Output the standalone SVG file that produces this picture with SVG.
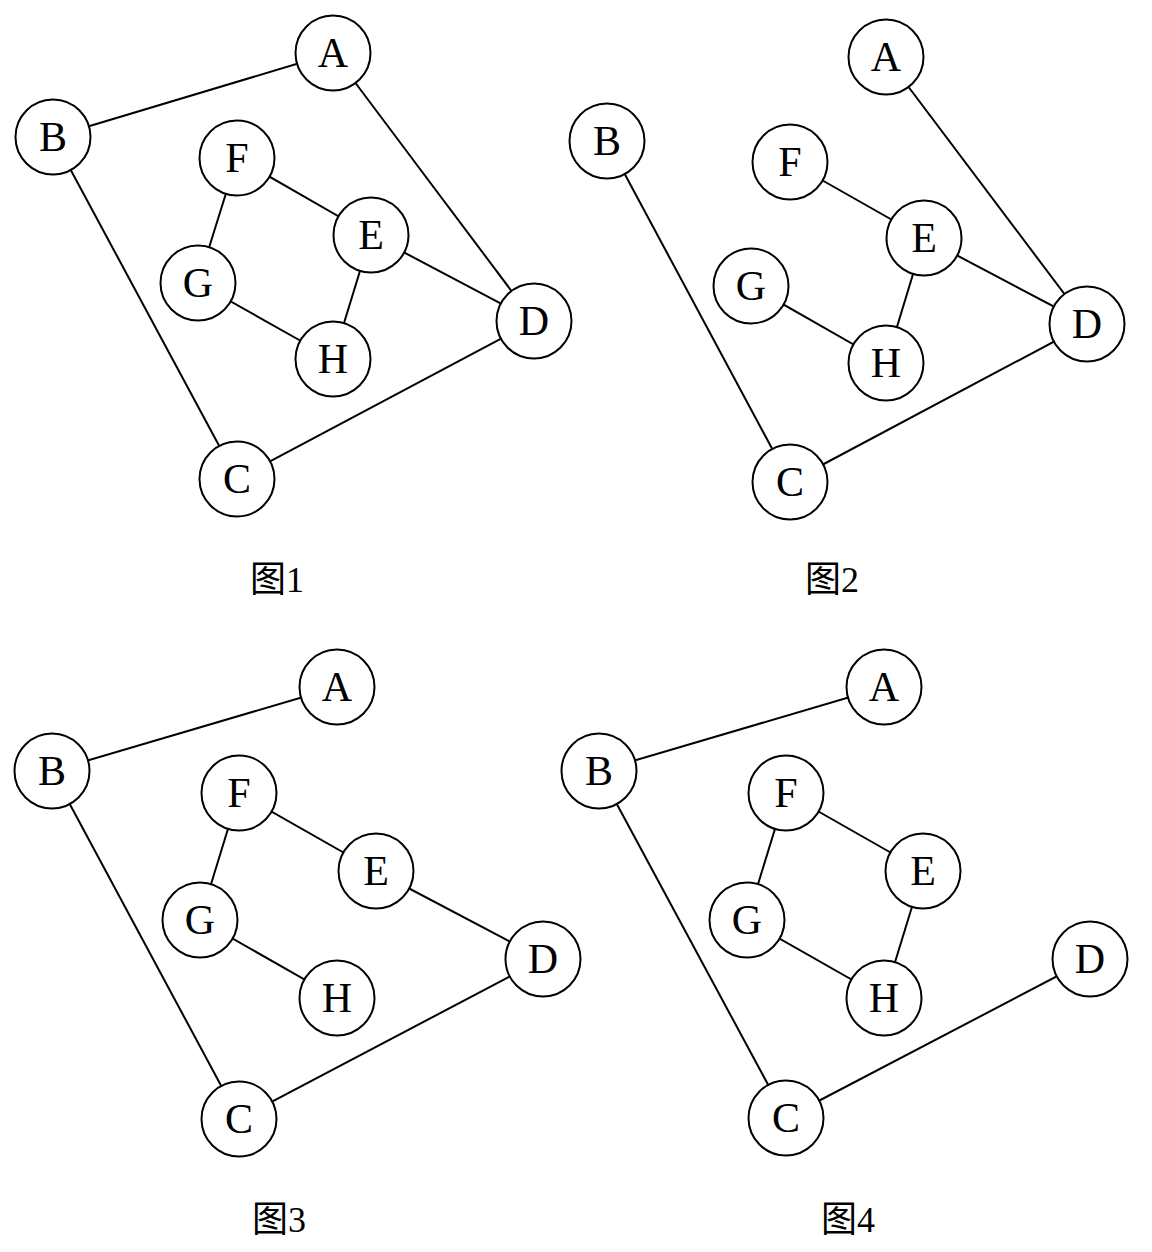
<svg xmlns="http://www.w3.org/2000/svg" width="1152" height="1252" viewBox="0 0 1152 1252">
<style>
.edge{stroke:#000;stroke-width:2;fill:none}
.node circle{fill:#fff;stroke:#000;stroke-width:2}
.node text{font-family:"Liberation Serif","Times New Roman",serif;font-size:42px;text-anchor:middle;fill:#000}
.cap{font-family:"Liberation Serif","Noto Sans CJK SC",serif;font-size:36px;text-anchor:middle;fill:#000}
</style>
<rect width="1152" height="1252" fill="#fff"/>

<!-- Figure 1 -->
<g id="fig1">
<g id="fig1-connectors">
<line class="edge" x1="53" y1="137" x2="333" y2="53"/>
<line class="edge" x1="53" y1="137" x2="237" y2="479"/>
<line class="edge" x1="333" y1="53" x2="534" y2="321"/>
<line class="edge" x1="237" y1="158" x2="371" y2="235"/>
<line class="edge" x1="237" y1="158" x2="198" y2="283"/>
<line class="edge" x1="371" y1="235" x2="333" y2="359"/>
<line class="edge" x1="371" y1="235" x2="534" y2="321"/>
<line class="edge" x1="198" y1="283" x2="333" y2="359"/>
<line class="edge" x1="237" y1="479" x2="534" y2="321"/>
</g>
<g id="fig1-A" class="node"><circle cx="333" cy="53" r="37.5"/><text x="333" y="67">A</text></g>
<g id="fig1-B" class="node"><circle cx="53" cy="137" r="37.5"/><text x="53" y="151">B</text></g>
<g id="fig1-F" class="node"><circle cx="237" cy="158" r="37.5"/><text x="237" y="172">F</text></g>
<g id="fig1-E" class="node"><circle cx="371" cy="235" r="37.5"/><text x="371" y="249">E</text></g>
<g id="fig1-G" class="node"><circle cx="198" cy="283" r="37.5"/><text x="198" y="297">G</text></g>
<g id="fig1-D" class="node"><circle cx="534" cy="321" r="37.5"/><text x="534" y="335">D</text></g>
<g id="fig1-H" class="node"><circle cx="333" cy="359" r="37.5"/><text x="333" y="373">H</text></g>
<g id="fig1-C" class="node"><circle cx="237" cy="479" r="37.5"/><text x="237" y="493">C</text></g>
<text id="fig1-label" class="cap" x="277" y="592">图1</text>
</g>

<!-- Figure 2 -->
<g id="fig2">
<g id="fig2-connectors">
<line class="edge" x1="886" y1="57" x2="1087" y2="324"/>
<line class="edge" x1="607" y1="141" x2="790" y2="482"/>
<line class="edge" x1="790" y1="162" x2="924" y2="238"/>
<line class="edge" x1="924" y1="238" x2="886" y2="363"/>
<line class="edge" x1="924" y1="238" x2="1087" y2="324"/>
<line class="edge" x1="751" y1="286" x2="886" y2="363"/>
<line class="edge" x1="790" y1="482" x2="1087" y2="324"/>
</g>
<g id="fig2-A" class="node"><circle cx="886" cy="57" r="37.5"/><text x="886" y="71">A</text></g>
<g id="fig2-B" class="node"><circle cx="607" cy="141" r="37.5"/><text x="607" y="155">B</text></g>
<g id="fig2-F" class="node"><circle cx="790" cy="162" r="37.5"/><text x="790" y="176">F</text></g>
<g id="fig2-E" class="node"><circle cx="924" cy="238" r="37.5"/><text x="924" y="252">E</text></g>
<g id="fig2-G" class="node"><circle cx="751" cy="286" r="37.5"/><text x="751" y="300">G</text></g>
<g id="fig2-D" class="node"><circle cx="1087" cy="324" r="37.5"/><text x="1087" y="338">D</text></g>
<g id="fig2-H" class="node"><circle cx="886" cy="363" r="37.5"/><text x="886" y="377">H</text></g>
<g id="fig2-C" class="node"><circle cx="790" cy="482" r="37.5"/><text x="790" y="496">C</text></g>
<text id="fig2-label" class="cap" x="832" y="592">图2</text>
</g>

<!-- Figure 3 -->
<g id="fig3">
<g id="fig3-connectors">
<line class="edge" x1="52" y1="771" x2="337" y2="687"/>
<line class="edge" x1="52" y1="771" x2="239" y2="1119"/>
<line class="edge" x1="239" y1="793" x2="376" y2="871"/>
<line class="edge" x1="239" y1="793" x2="200" y2="920"/>
<line class="edge" x1="376" y1="871" x2="543" y2="959"/>
<line class="edge" x1="200" y1="920" x2="337" y2="998"/>
<line class="edge" x1="239" y1="1119" x2="543" y2="959"/>
</g>
<g id="fig3-A" class="node"><circle cx="337" cy="687" r="37.5"/><text x="337" y="701">A</text></g>
<g id="fig3-B" class="node"><circle cx="52" cy="771" r="37.5"/><text x="52" y="785">B</text></g>
<g id="fig3-F" class="node"><circle cx="239" cy="793" r="37.5"/><text x="239" y="807">F</text></g>
<g id="fig3-E" class="node"><circle cx="376" cy="871" r="37.5"/><text x="376" y="885">E</text></g>
<g id="fig3-G" class="node"><circle cx="200" cy="920" r="37.5"/><text x="200" y="934">G</text></g>
<g id="fig3-D" class="node"><circle cx="543" cy="959" r="37.5"/><text x="543" y="973">D</text></g>
<g id="fig3-H" class="node"><circle cx="337" cy="998" r="37.5"/><text x="337" y="1012">H</text></g>
<g id="fig3-C" class="node"><circle cx="239" cy="1119" r="37.5"/><text x="239" y="1133">C</text></g>
<text id="fig3-label" class="cap" x="279" y="1232">图3</text>
</g>

<!-- Figure 4 -->
<g id="fig4">
<g id="fig4-connectors">
<line class="edge" x1="599" y1="771" x2="884" y2="687"/>
<line class="edge" x1="599" y1="771" x2="786" y2="1118"/>
<line class="edge" x1="786" y1="793" x2="923" y2="871"/>
<line class="edge" x1="786" y1="793" x2="747" y2="920"/>
<line class="edge" x1="923" y1="871" x2="884" y2="998"/>
<line class="edge" x1="747" y1="920" x2="884" y2="998"/>
<line class="edge" x1="786" y1="1118" x2="1090" y2="959"/>
</g>
<g id="fig4-A" class="node"><circle cx="884" cy="687" r="37.5"/><text x="884" y="701">A</text></g>
<g id="fig4-B" class="node"><circle cx="599" cy="771" r="37.5"/><text x="599" y="785">B</text></g>
<g id="fig4-F" class="node"><circle cx="786" cy="793" r="37.5"/><text x="786" y="807">F</text></g>
<g id="fig4-E" class="node"><circle cx="923" cy="871" r="37.5"/><text x="923" y="885">E</text></g>
<g id="fig4-G" class="node"><circle cx="747" cy="920" r="37.5"/><text x="747" y="934">G</text></g>
<g id="fig4-D" class="node"><circle cx="1090" cy="959" r="37.5"/><text x="1090" y="973">D</text></g>
<g id="fig4-H" class="node"><circle cx="884" cy="998" r="37.5"/><text x="884" y="1012">H</text></g>
<g id="fig4-C" class="node"><circle cx="786" cy="1118" r="37.5"/><text x="786" y="1132">C</text></g>
<text id="fig4-label" class="cap" x="848" y="1232">图4</text>
</g>
</svg>
